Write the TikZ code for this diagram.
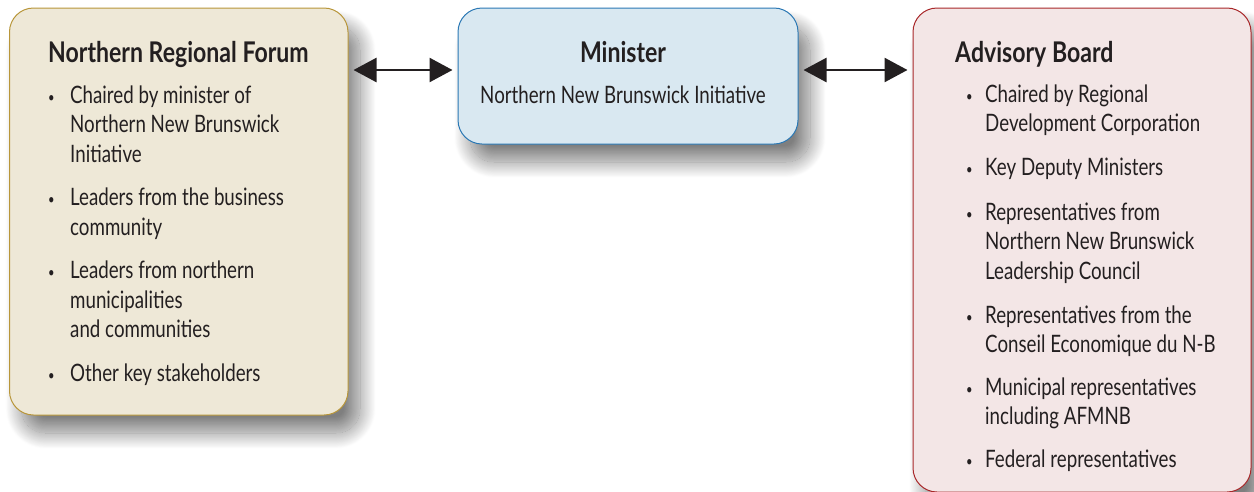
\documentclass[tikz,border=0pt]{standalone}
\usepackage{fontspec}
\setmainfont[FakeStretch=0.78, BoldFeatures={FakeStretch=0.81}]{Lato}
\usetikzlibrary{arrows.meta,shadows.blur}
\definecolor{ink}{HTML}{231F20}
\definecolor{sandfill}{HTML}{EEE8D7}
\definecolor{sandline}{HTML}{B8963A}
\definecolor{skyfill}{HTML}{D9E8F1}
\definecolor{skyline}{HTML}{2B78B4}
\definecolor{rosefill}{HTML}{F3E6E6}
\definecolor{roseline}{HTML}{A8282A}
\newcommand{\entry}[2][22pt]{\makebox[#1][l]{\raisebox{1pt}{\scalebox{0.6}{\textbullet}}}\begin{tabular}[t]{@{}l@{}}#2\end{tabular}}

\begin{document}
\begin{tikzpicture}[x=1pt,y=-1pt,
    panel/.style={rounded corners=24pt, line width=1pt, inner sep=0pt,
      blur shadow={shadow xshift=12pt, shadow yshift=-18pt, shadow blur radius=16pt,
        shadow blur steps=30, shadow opacity=50}},
    heading/.style={font=\fontsize{28.5}{32}\selectfont\bfseries, text=ink, inner sep=0pt},
    body/.style={font=\fontsize{24}{29.5}\selectfont, text=ink, inner sep=0pt, anchor=base west},
    link/.style={line width=2.5pt, draw=ink, {Triangle[length=23pt,width=24pt]}-{Triangle[length=23pt,width=24pt]},
      shorten <=5pt, shorten >=5pt}]
  \useasboundingbox (0,0) rectangle (1254,491);
  \node[panel, draw=sandline, fill=sandfill, minimum width=338.5pt, minimum height=407pt] (forum) at (178.75,211.5) {};
  \node[panel, draw=skyline, fill=skyfill, minimum width=340pt, minimum height=136pt] (minister) at (628,76) {};
  \node[panel, draw=roseline, fill=rosefill, minimum width=338pt, minimum height=484pt] (board) at (1082,250) {};

  \node[heading, anchor=base west] (forumtitle) at (48,62) {Northern Regional Forum};
  \node[body] (forum1) at (48,103) {\entry{Chaired by minister of\\Northern New Brunswick\\Initiative}};
  \node[body] (forum2) at (48,205.5) {\entry{Leaders from the business\\community}};
  \node[body] (forum3) at (48,278.5) {\entry{Leaders from northern\\municipalities\\and communities}};
  \node[body] (forum4) at (48,381) {\entry{Other key stakeholders}};

  \node[heading, anchor=base] (ministertitle) at (623,62) {Minister};
  \node[body, anchor=base] (ministernote) at (623,103) {Northern New Brunswick Initiative};

  \node[heading, anchor=base west] (boardtitle) at (955,62) {Advisory Board};
  \node[body] (board1) at (966,102) {\entry[19pt]{Chaired by Regional\\Development Corporation}};
  \node[body] (board2) at (966,175) {\entry[19pt]{Key Deputy Ministers}};
  \node[body] (board3) at (966,220) {\entry[19pt]{Representatives from\\Northern New Brunswick\\Leadership Council}};
  \node[body] (board4) at (966,323) {\entry[19pt]{Representatives from the\\Conseil Economique du N-B}};
  \node[body] (board5) at (966,395) {\entry[19pt]{Municipal representatives\\including AFMNB}};
  \node[body] (board6) at (966,467) {\entry[19pt]{Federal representatives}};

  \coordinate (level) at (0,70);
  \draw[link] (forum.east |- level) -- (minister.west |- level);
  \draw[link] (minister.east |- level) -- (board.west |- level);
\end{tikzpicture}
\end{document}
